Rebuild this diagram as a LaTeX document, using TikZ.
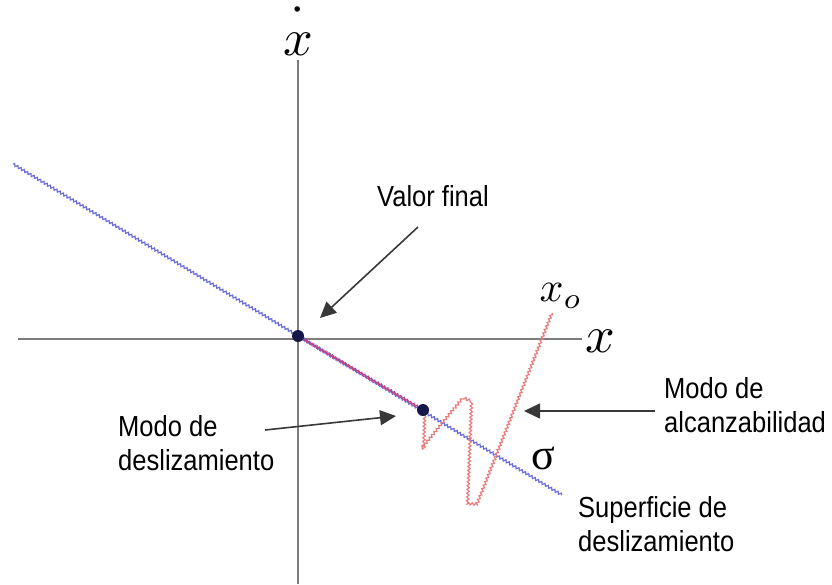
\documentclass[tikz,border=0pt]{standalone}
\usepackage{amsmath}
\usepackage{graphicx}
\usepackage{fontspec}
\setmainfont{Liberation Sans}[FakeStretch=0.88]
\newfontfamily\sigmafont{Liberation Serif}
\usetikzlibrary{arrows.meta, decorations.pathmorphing}
\definecolor{axisgray}{HTML}{7c7c7c}
\definecolor{surfblue}{HTML}{6c6cdc}
\definecolor{trajred}{HTML}{ec7c7c}
\definecolor{slidemag}{HTML}{c0407c}
\definecolor{dotnavy}{HTML}{15174a}
\definecolor{darkgray}{HTML}{383838}
\newcommand{\bigmath}[2]{\scalebox{#1}{$#2$}}

\begin{document}
\begin{tikzpicture}[
  x=1pt, y=-1pt,
  lbl/.style={font=\fontsize{29}{34}\selectfont, align=left, inner sep=0pt, anchor=north west},
  mlbl/.style={inner sep=0pt},
  axis/.style={draw=axisgray, line width=2pt},
  wavy/.style={decorate, decoration={snake, amplitude=1.2pt, segment length=3.8pt}, line width=1.2pt},
  pt/.style={circle, fill=dotnavy, minimum size=12pt, inner sep=0pt},
  arr/.style={-{Triangle[length=16pt, width=15pt]}, line width=1.6pt, color=darkgray}
]
\useasboundingbox (0,0) rectangle (832,584);

% axes
\coordinate (xl) at (18,339);
\coordinate (xr) at (582,339);
\coordinate (yt) at (298,60);
\coordinate (yb) at (298,584);
\draw[axis] (xl) -- (xr);
\draw[axis] (yt) -- (yb);
\node[mlbl] (xdot) at (298,31) {\bigmath{5.2}{\dot{\vphantom{b}x}}};
\node[mlbl] (xlab) at (600,341) {\bigmath{5.2}{x}};

% sliding surface and trajectory
\coordinate (s0) at (13,164);
\coordinate (s1) at (562,495);
\coordinate (orig) at (298,336);
\coordinate (hit) at (423,410);
\draw[wavy, surfblue] (s0) -- (s1);
\draw[wavy, slidemag] (orig) -- (hit);
\coordinate (x0) at (552,313);
\draw[wavy, trajred] (x0) -- (477,504) -- (465,503) -- (469,400) -- (462,397) -- (422,446) -- (hit);
\node[pt] (porig) at (orig) {};
\node[pt] (phit) at (hit) {};
\node[mlbl] (xo) at (561,296) {\bigmath{4.2}{x_o}};
\node[inner sep=0pt, font=\sigmafont\fontsize{44}{44}\selectfont] (sig) at (543,458) {σ};

% labels
\node[lbl] (valor) at (377,185) {Valor final};
\node[lbl] (desl) at (118,415) {Modo de\\deslizamiento};
\node[lbl] (alc) at (664,377) {Modo de\\alcanzabilidad};
\node[lbl] (sup) at (578,496) {Superficie de\\deslizamiento};

% arrows
\coordinate (a1) at (418,227);
\coordinate (b1) at (320,318);
\coordinate (a2) at (265,430);
\coordinate (b2) at (396,416);
\coordinate (a3) at (655,411);
\coordinate (b3) at (524,411);
\draw[arr] (a1) -- (b1);
\draw[arr] (a2) -- (b2);
\draw[arr] (a3) -- (b3);
\end{tikzpicture}
\end{document}
